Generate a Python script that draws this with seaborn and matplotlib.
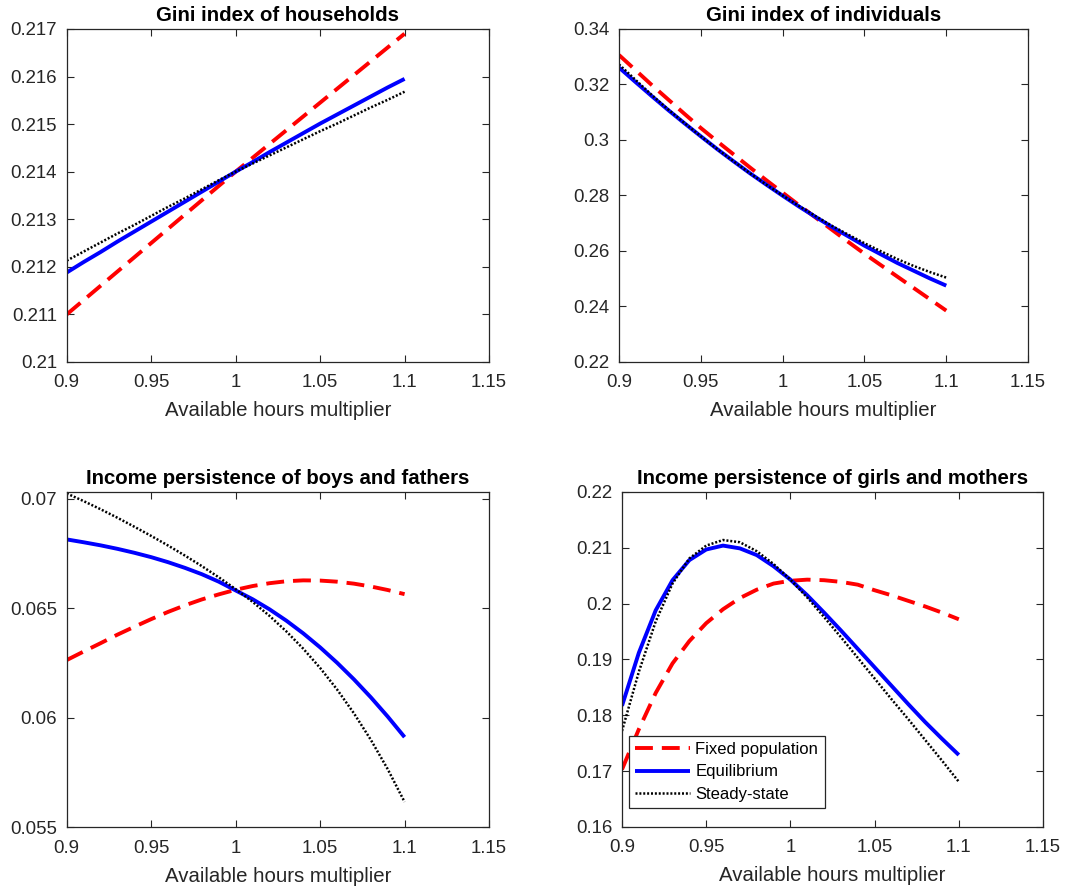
import numpy as np
import pandas as pd
import matplotlib
matplotlib.use("Agg")
import matplotlib.pyplot as plt
from matplotlib.ticker import FuncFormatter
import seaborn as sns

# Available hours multiplier grid
hours = [0.90, 0.91, 0.92, 0.93, 0.94, 0.95, 0.96, 0.97, 0.98, 0.99, 1.00,
         1.01, 1.02, 1.03, 1.04, 1.05, 1.06, 1.07, 1.08, 1.09, 1.10]

series_names = ["Fixed population", "Equilibrium", "Steady-state"]

# Gini index of households
gini_hh_fixed = [0.2110, 0.2113, 0.2116, 0.2119, 0.2122, 0.2125, 0.2128, 0.2131, 0.2134, 0.2137, 0.2140,
                 0.21429, 0.21458, 0.21487, 0.21516, 0.21545, 0.21574, 0.21603, 0.21632, 0.21661, 0.2169]
gini_hh_equil = [0.21188, 0.21210, 0.21231, 0.21253, 0.21274, 0.21295, 0.21316, 0.21337, 0.21358, 0.21379, 0.21400,
                 0.21420, 0.21441, 0.21461, 0.21481, 0.21501, 0.21520, 0.21539, 0.21558, 0.21577, 0.21595]
gini_hh_steady = [0.21213, 0.21232, 0.21251, 0.21270, 0.21288, 0.21307, 0.21326, 0.21344, 0.21363, 0.21382, 0.21400,
                  0.21417, 0.21434, 0.21451, 0.21468, 0.21485, 0.21501, 0.21518, 0.21535, 0.21551, 0.21568]

# Gini index of individuals
gini_ind_fixed = [0.3306, 0.3252, 0.3198, 0.3146, 0.3094, 0.3043, 0.2995, 0.2948, 0.2901, 0.2855, 0.2810,
                  0.2765, 0.2721, 0.2677, 0.2633, 0.2590, 0.2549, 0.2508, 0.2467, 0.2426, 0.2385]
gini_ind_equil = [0.3261, 0.3209, 0.3158, 0.3108, 0.3060, 0.3013, 0.2967, 0.2923, 0.2880, 0.2839, 0.2799,
                  0.2760, 0.2723, 0.2687, 0.2653, 0.2619, 0.2588, 0.2557, 0.2529, 0.2501, 0.2475]
gini_ind_steady = [0.3272, 0.3217, 0.3162, 0.3110, 0.3061, 0.3013, 0.2967, 0.2923, 0.2880, 0.2839, 0.2800,
                   0.2762, 0.2726, 0.2691, 0.2659, 0.2628, 0.2599, 0.2571, 0.2546, 0.2524, 0.2504]

# Income persistence of boys and fathers
boys_fixed = [0.06264, 0.06303, 0.06341, 0.06380, 0.06416, 0.06451, 0.06484, 0.06514, 0.06541, 0.06564, 0.06585,
              0.06602, 0.06615, 0.06624, 0.06628, 0.06627, 0.06622, 0.06613, 0.06600, 0.06584, 0.06565]
boys_equil = [0.06815, 0.06802, 0.06788, 0.06772, 0.06754, 0.06734, 0.06711, 0.06685, 0.06656, 0.06622, 0.06582,
              0.06542, 0.06496, 0.06444, 0.06386, 0.06322, 0.06252, 0.06176, 0.06094, 0.06006, 0.05912]
boys_steady = [0.07025, 0.06990, 0.06953, 0.06914, 0.06873, 0.06831, 0.06787, 0.06741, 0.06693, 0.06642, 0.06588,
               0.06530, 0.06466, 0.06395, 0.06316, 0.06228, 0.06130, 0.06021, 0.05900, 0.05766, 0.05616]

# Income persistence of girls and mothers
girls_fixed = [0.1703, 0.1775, 0.1840, 0.1893, 0.1933, 0.1965, 0.1990, 0.2010, 0.2025, 0.2036, 0.2041,
               0.2043, 0.2042, 0.2039, 0.2034, 0.2024, 0.2015, 0.2005, 0.1995, 0.1984, 0.1972]
girls_equil = [0.1817, 0.1912, 0.1988, 0.2042, 0.2078, 0.2097, 0.2104, 0.2099, 0.2087, 0.2067, 0.2043,
               0.2015, 0.1984, 0.1952, 0.1919, 0.1886, 0.1853, 0.1820, 0.1788, 0.1758, 0.1729]
girls_steady = [0.1772, 0.1878, 0.1968, 0.2036, 0.2081, 0.2104, 0.2114, 0.2110, 0.2094, 0.2071, 0.2043,
                0.2011, 0.1976, 0.1940, 0.1903, 0.1866, 0.1829, 0.1793, 0.1756, 0.1719, 0.1681]

panel_titles = ["Gini index of households", "Gini index of individuals",
                "Income persistence of boys and fathers", "Income persistence of girls and mothers"]
x_label = "Available hours multiplier"
x_ticks = [0.9, 0.95, 1.0, 1.05, 1.1, 1.15]

panels = [
    dict(data=(gini_hh_fixed, gini_hh_equil, gini_hh_steady), ylim=(0.21, 0.217),
         yticks=[0.21, 0.211, 0.212, 0.213, 0.214, 0.215, 0.216, 0.217],
         rect=[0.0625, 0.5933, 0.3954, 0.3742]),
    dict(data=(gini_ind_fixed, gini_ind_equil, gini_ind_steady), ylim=(0.22, 0.34),
         yticks=[0.22, 0.24, 0.26, 0.28, 0.30, 0.32, 0.34],
         rect=[0.5796, 0.5933, 0.3830, 0.3742]),
    dict(data=(boys_fixed, boys_equil, boys_steady), ylim=(0.055, 0.0703),
         yticks=[0.055, 0.06, 0.065, 0.07],
         rect=[0.0625, 0.0704, 0.3954, 0.3764]),
    dict(data=(girls_fixed, girls_equil, girls_steady), ylim=(0.16, 0.22),
         yticks=[0.16, 0.17, 0.18, 0.19, 0.20, 0.21, 0.22],
         rect=[0.5824, 0.0708, 0.3942, 0.3764]),
]

sns.set_theme(style="ticks")
gray = "#262626"
plt.rcParams.update({
    "font.family": ["Liberation Sans", "DejaVu Sans"],
    "axes.edgecolor": gray,
    "axes.linewidth": 0.9,
    "xtick.color": gray,
    "ytick.color": gray,
    "xtick.labelcolor": gray,
    "ytick.labelcolor": gray,
    "axes.labelcolor": gray,
    "lines.solid_capstyle": "butt",
})

palette = {"Fixed population": "#ff0000", "Equilibrium": "#0000ff", "Steady-state": "#000000"}
dashes = {"Fixed population": (4.6, 2.3), "Equilibrium": "", "Steady-state": (0.8, 0.75)}
sizes = {"Fixed population": 2.8, "Equilibrium": 2.8, "Steady-state": 1.8}

fig = plt.figure(figsize=(10.68, 8.90), dpi=100)
fmt = FuncFormatter(lambda v, p: f"{v:g}")

for i, panel in enumerate(panels):
    ax = fig.add_axes(panel["rect"])
    frames = []
    for name, vals in zip(series_names, panel["data"]):
        frames.append(pd.DataFrame({"hours": hours, "value": vals, "series": name}))
    df = pd.concat(frames, ignore_index=True)
    sns.lineplot(data=df, x="hours", y="value", hue="series", style="series", size="series",
                 hue_order=series_names, style_order=series_names, size_order=series_names,
                 palette=palette, dashes=dashes, sizes=sizes, markers=False,
                 errorbar=None, legend=False, ax=ax)

    ax.set_xlim(0.9, 1.15)
    ax.set_ylim(*panel["ylim"])
    ax.set_xticks(x_ticks)
    ax.set_yticks(panel["yticks"])
    ax.xaxis.set_major_formatter(fmt)
    ax.yaxis.set_major_formatter(fmt)
    ax.tick_params(direction="in", top=True, right=True, length=5, width=0.8, labelsize=13.4)
    ax.tick_params(axis="x", pad=9)
    ax.tick_params(axis="y", pad=7)
    for sp in ax.spines.values():
        sp.set_visible(True)
        sp.set_color(gray)
    ax.set_xlabel(x_label, fontsize=14.7, labelpad=7)
    ax.set_ylabel("")
    ax.set_title(panel_titles[i], fontsize=14.7, fontweight="bold", color="black", pad=6)

    if i == 3:
        handles = ax.get_lines()[:3]
        leg = ax.legend(handles, series_names, loc="lower left", bbox_to_anchor=(0.0166, 0.0558),
                        borderaxespad=0, fontsize=12, handlelength=3.3, handletextpad=0.3,
                        labelspacing=0.45, borderpad=0.38, frameon=True, fancybox=False,
                        framealpha=1, edgecolor=gray)
        leg.get_frame().set_linewidth(0.9)
        for t in leg.get_texts():
            t.set_color("black")

fig.savefig("out.png", dpi=100, facecolor="white")
